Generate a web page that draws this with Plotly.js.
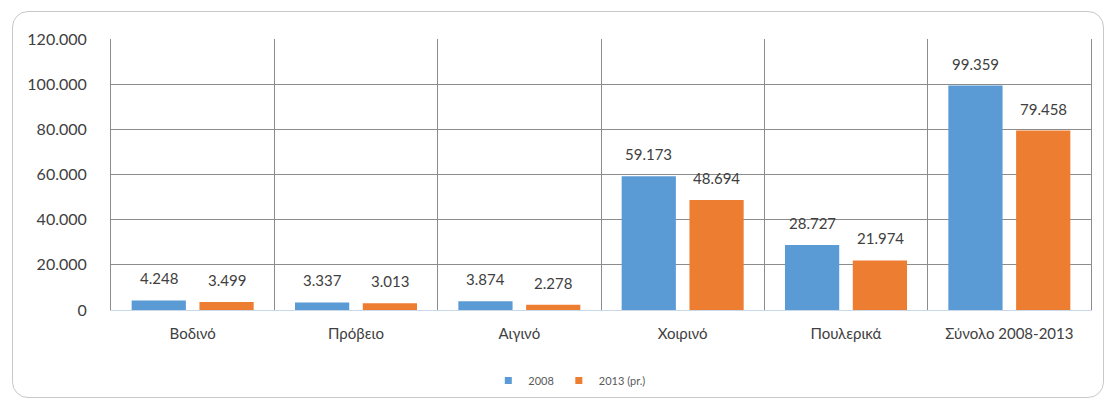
<!DOCTYPE html>
<html>
<head>
<meta charset="utf-8">
<script src="https://cdn.plot.ly/plotly-3.0.1.min.js"></script>
<style>
html,body{margin:0;padding:0;background:#fff;}
#wrap{position:relative;width:1105px;height:403px;}
#chart{position:absolute;left:0;top:0;width:1105px;height:403px;}
#frame{position:absolute;left:12px;top:11px;width:1090px;height:385px;border:1px solid #c8c8c8;border-radius:16px;pointer-events:none;}
</style>
</head>
<body>
<div id="wrap">
<div id="frame"></div>
<div id="chart"></div>
</div>
<script>
const categories = ["Βοδινό", "Πρόβειο", "Αιγινό", "Χοιρινό", "Πουλερικά", "Σύνολο 2008-2013"];
const values2008 = [4248, 3337, 3874, 59173, 28727, 99359];
const values2013 = [3499, 3013, 2278, 48694, 21974, 79458];
const seriesNames = ["2008", "2013 (pr.)"];
const seriesColors = ['#5B9BD5', '#ED7D31'];
const yTicks = [0, 20000, 40000, 60000, 80000, 100000, 120000];

const fmt = v => v.toLocaleString('de-DE');
const font = "Lato, 'Open Sans', sans-serif";

const traces = [
  {type:'bar', x:categories, y:values2008, name:seriesNames[0], marker:{color:seriesColors[0]}, hoverinfo:'none', showlegend:false},
  {type:'bar', x:categories, y:values2013, name:seriesNames[1], marker:{color:seriesColors[1]}, hoverinfo:'none', showlegend:false},
  {type:'scatter', mode:'markers', x:[null], y:[null], name:seriesNames[0], marker:{symbol:'square', size:7, color:seriesColors[0]}, showlegend:true},
  {type:'scatter', mode:'markers', x:[null], y:[null], name:seriesNames[1], marker:{symbol:'square', size:7, color:seriesColors[1]}, showlegend:true}
];

const annotations = [];
[values2008, values2013].forEach((vals, s) => {
  vals.forEach((v, i) => {
    annotations.push({
      x: categories[i], y: v, xref:'x', yref:'y',
      text: fmt(v), showarrow:false,
      xshift: s === 0 ? -34 : 34, yshift: 22,
      font:{family:font, size:15, color:'#404040'}
    });
  });
});

const layout = {
  width:1105, height:403,
  margin:{l:111, r:14, t:39, b:93, autoexpand:false},
  paper_bgcolor:'rgba(0,0,0,0)', plot_bgcolor:'rgba(0,0,0,0)',
  barmode:'group', bargap:0.17, bargroupgap:0.2,
  separators:',.',
  font:{family:font, color:'#595959'},
  showlegend:true,
  legend:{orientation:'h', x:0.385, xanchor:'left', y:-0.26, yanchor:'middle',
          font:{family:font, size:11, color:'#595959'}, itemwidth:30, traceorder:'normal',
          tracegroupgap:0, itemclick:false},
  xaxis:{type:'category', tickson:'boundaries', showgrid:true, gridcolor:'#8c8c8c', gridwidth:1,
         ticks:'', showline:true, linecolor:'#c9d8e8', mirror:false,
         ticklabelstandoff:10, automargin:false,
         tickfont:{family:font, size:15, color:'#404040'}, fixedrange:true},
  yaxis:{range:[0,120000], tickvals:yTicks, ticktext:yTicks.map(fmt), showgrid:true,
         gridcolor:'#8c8c8c', gridwidth:1, zeroline:false, showline:true, mirror:true,
         linecolor:'#8c8c8c', linewidth:1, ticks:'', automargin:false,
         ticklabelstandoff:20,
         tickfont:{family:font, size:16, color:'#404040'}, fixedrange:true},
  annotations: annotations
};

Plotly.newPlot('chart', traces, layout, {displayModeBar:false, staticPlot:true});
</script>
</body>
</html>
